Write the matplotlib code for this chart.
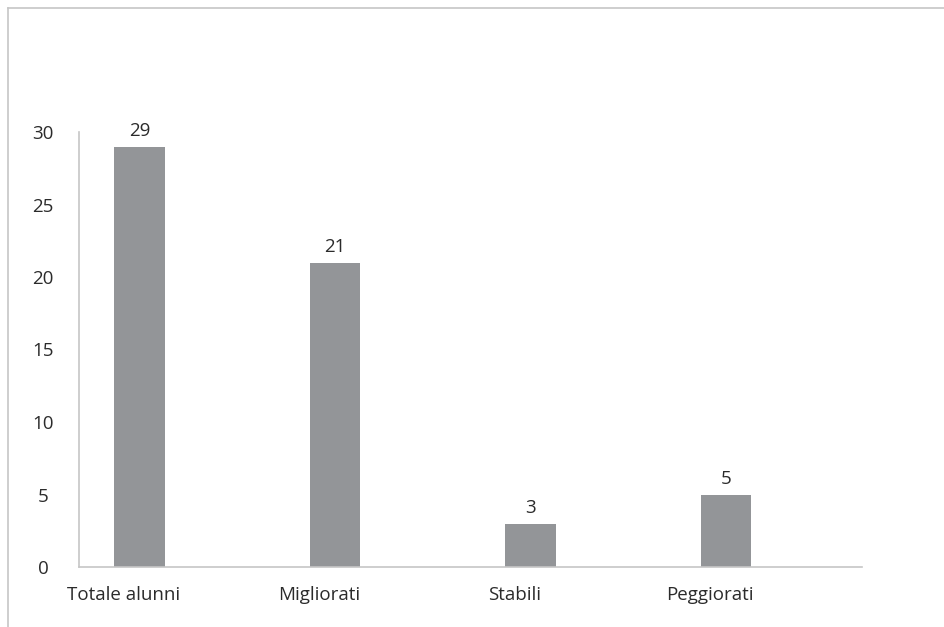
import matplotlib
matplotlib.use("Agg")
import matplotlib.pyplot as plt
from matplotlib.lines import Line2D
import numpy as np

# dati: numero di alunni per categoria
categorie = ["Totale alunni", "Migliorati", "Stabili", "Peggiorati"]
valori = [29, 21, 3, 5]
tick_y = [0, 5, 10, 15, 20, 25, 30]

GRIGIO_BARRE = "#939598"
GRIGIO_LINEE = "#c6c6c6"
TESTO = "#2b2b2b"

plt.rcParams["font.family"] = ["Open Sans", "DejaVu Sans"]

W, H = 944, 627
fig = plt.figure(figsize=(W / 100, H / 100), dpi=100)

# cornice esterna (solo lato sinistro e superiore)
fig.add_artist(Line2D([8 / W, 8 / W], [0, 1 - 8 / H], color=GRIGIO_LINEE, lw=1.2))
fig.add_artist(Line2D([8 / W, 1], [1 - 8 / H, 1 - 8 / H], color=GRIGIO_LINEE, lw=1.2))

ax = fig.add_axes([79 / W, 1 - 567 / H, (862 - 79) / W, (567 - 132) / H])

x = np.arange(len(categorie))
barre = ax.bar(x, valori, width=0.26, color=GRIGIO_BARRE, zorder=2)

# etichette con i valori sopra le barre
for b, v in zip(barre, valori):
    ax.annotate(str(v), (b.get_x() + b.get_width() / 2, v),
                xytext=(0, 5), textcoords="offset points",
                ha="center", va="bottom", fontsize=13.5, color=TESTO)

ax.set_xlim(-0.309, 3.696)
ax.set_ylim(0, 30)
ax.set_yticks(tick_y)
ax.set_yticklabels([str(t) for t in tick_y])
ax.set_xticks(x - 0.08)
ax.set_xticklabels(categorie)

ax.tick_params(axis="y", length=0, pad=26, labelsize=13.5, labelcolor=TESTO)
ax.tick_params(axis="x", length=0, pad=14, labelsize=13.5, labelcolor=TESTO)
for lab in ax.get_yticklabels():
    lab.set_horizontalalignment("center")

for lato in ["top", "right"]:
    ax.spines[lato].set_visible(False)
for lato in ["left", "bottom"]:
    ax.spines[lato].set_color(GRIGIO_LINEE)
    ax.spines[lato].set_linewidth(1.2)

fig.savefig("out.png", dpi=100, facecolor="white")
